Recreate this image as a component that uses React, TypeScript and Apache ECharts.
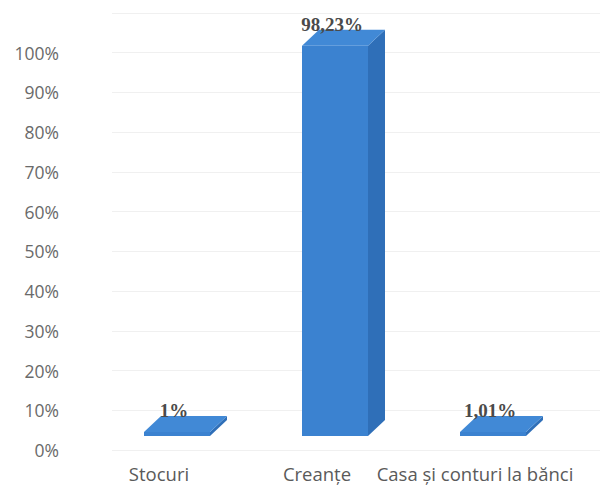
import React, { useEffect, useRef } from "react";
import * as echarts from "echarts";

const categories = ["Stocuri", "Creanțe", "Casa și conturi la bănci"];
const values = [1, 98.23, 1.01];
const valueLabels = ["1%", "98,23%", "1,01%"];
const yMax = 110;

export default function App() {
  const ref = useRef<HTMLDivElement>(null);
  useEffect(() => {
    if (!ref.current) return;
    const chart = echarts.init(ref.current, null, { renderer: "svg" });
    const option: any = {
      animation: false,
      backgroundColor: "#ffffff",
      grid: [
        { left: 112, right: 0, top: 13, bottom: 36 },
        { left: 80, right: 46, top: 13, bottom: 36 },
      ],
      xAxis: [
        { type: "category", gridIndex: 0, data: categories, show: false },
        {
          type: "category",
          gridIndex: 1,
          data: categories,
          axisLine: { show: false },
          axisTick: { show: false },
          axisLabel: {
            color: "#5a5a5a",
            fontFamily: "Open Sans",
            fontSize: 18.5,
            lineHeight: 19,
            margin: 14,
            interval: 0,
          },
        },
      ],
      yAxis: [
        {
          type: "value",
          gridIndex: 0,
          min: 0,
          max: yMax,
          interval: 10,
          axisLine: { show: false },
          axisTick: { show: false },
          axisLabel: {
            color: "#6a6a6a",
            fontFamily: "Open Sans",
            fontSize: 17.5,
            margin: 53,
            formatter: (v: number) => (v > 100 ? "" : v + "%"),
          },
          splitLine: { lineStyle: { color: "#f0f0f0", width: 1 } },
        },
        { type: "value", gridIndex: 1, min: 0, max: yMax, show: false },
      ],
      series: [
        {
          type: "custom",
          xAxisIndex: 1,
          yAxisIndex: 1,
          data: values.map((v, i) => [i, v]),
          renderItem: (params: any, api: any) => {
            const idx = api.value(0);
            const v = api.value(1);
            const p0 = api.coord([idx, 0]);
            const p1 = api.coord([idx, v]);
            const cx = p0[0] + 18;
            const w = 66;
            const dx = 17;
            const dy = 16;
            const lift = 14;
            const xl = cx - w / 2;
            const xr = cx + w / 2;
            const yb = p0[1] - lift;
            const yt = Math.min(p1[1] - lift, yb - 3);
            return {
              type: "group",
              children: [
                {
                  type: "polygon",
                  shape: { points: [[xl, yb], [xr, yb], [xr, yt], [xl, yt]] },
                  style: { fill: "#3b82d0" },
                },
                {
                  type: "polygon",
                  shape: { points: [[xr, yb], [xr + dx, yb - dy], [xr + dx, yt - dy], [xr, yt]] },
                  style: { fill: "#2f6fb8" },
                },
                {
                  type: "polygon",
                  shape: { points: [[xl, yt], [xr, yt], [xr + dx, yt - dy], [xl + dx, yt - dy]] },
                  style: { fill: "#4189d6" },
                },
                {
                  type: "text",
                  style: {
                    x: cx - 3,
                    y: yt - 12,
                    text: valueLabels[params.dataIndex],
                    fill: "#4a4a4a",
                    font: "bold 19px 'Liberation Serif', 'DejaVu Serif', serif",
                    textAlign: "center",
                    textVerticalAlign: "bottom",
                  },
                },
              ],
            };
          },
        },
      ],
    };
    chart.setOption(option);
    return () => chart.dispose();
  }, []);
  return <div ref={ref} style={{ width: 600, height: 486, position: "absolute", left: 0, top: 0 }} />;
}
